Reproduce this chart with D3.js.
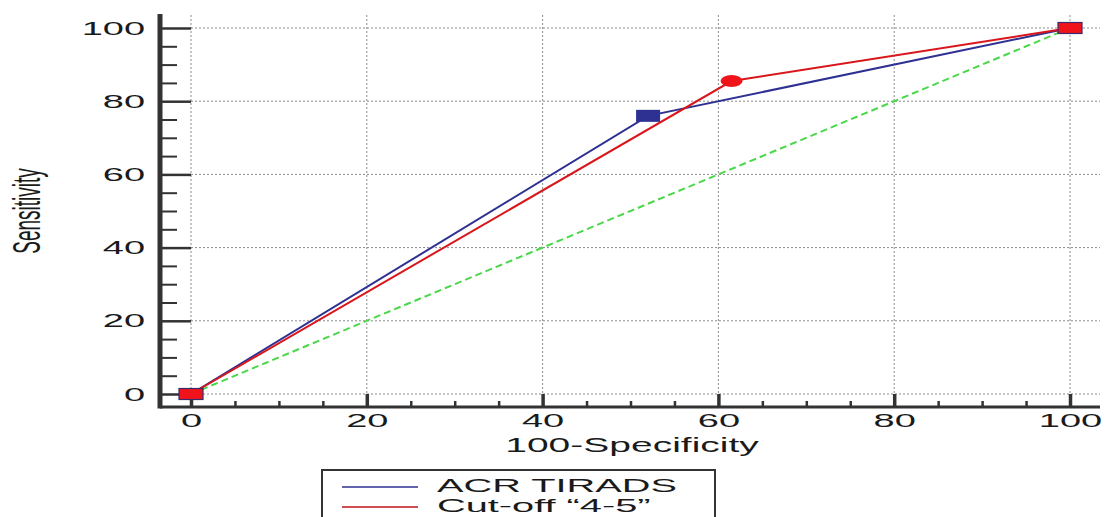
<!DOCTYPE html>
<html><head><meta charset="utf-8">
<script src="https://cdn.jsdelivr.net/npm/d3@7"></script>
<style>
html,body{margin:0;padding:0;background:#fff;}
svg{display:block;font-family:"Liberation Sans",Arial,sans-serif;}
</style></head>
<body>
<svg id="c" width="1106" height="517"></svg>
<script>
// ---- data ----
const majorTicks = [0, 20, 40, 60, 80, 100];
const minorTicks = [5,10,15,25,30,35,45,50,55,65,70,75,85,90,95];
const acrX = [0, 52, 100];
const acrY = [0, 76, 100];
const cutX = [0, 61.5, 100];
const cutY = [0, 85.5, 100];
const refX = [0, 100];
const refY = [0, 100];
const legendLabels = ["ACR TIRADS", "Cut-off \u201c4-5\u201d"];
const xTitle = "100-Specificity";
const yTitle = "Sensitivity";

const svg = d3.select("#c");
const x = d3.scaleLinear().domain([0, 100]).range([191, 1070]);
const y = d3.scaleLinear().domain([0, 100]).range([394, 28]);
const axisY0 = 407, axisX0 = 160;
const SX = 2; // horizontal stretch of text

// grid
const grid = svg.append("g").attr("stroke", "#8a8a8a").attr("stroke-width", 1).attr("stroke-dasharray", "2,2");
grid.selectAll("line.v").data(majorTicks).join("line")
  .attr("x1", d => x(d)).attr("x2", d => x(d)).attr("y1", 15).attr("y2", axisY0);
grid.selectAll("line.h").data(majorTicks).join("line")
  .attr("x1", x(0)).attr("x2", 1100).attr("y1", d => y(d)).attr("y2", d => y(d));

// x axis
const gx = svg.append("g").attr("transform", `translate(0,${axisY0})`);
gx.call(d3.axisBottom(x).tickValues(majorTicks).tickSizeInner(-13).tickSizeOuter(0).tickPadding(7));
gx.select(".domain").remove();
gx.selectAll(".tick line").attr("stroke", "#333").attr("stroke-width", 3.5);
gx.selectAll(".tick text").attr("font-size", 19).attr("fill", "#1a1a1a")
  .attr("font-family", "Liberation Sans, Arial, sans-serif")
  .attr("transform", `scale(${SX},1)`);
const gxm = svg.append("g").attr("transform", `translate(0,${axisY0})`);
gxm.call(d3.axisBottom(x).tickValues(minorTicks).tickSizeInner(-6).tickSizeOuter(0).tickFormat(""));
gxm.select(".domain").remove();
gxm.selectAll(".tick line").attr("stroke", "#333").attr("stroke-width", 2.5);
svg.append("line").attr("x1", axisX0).attr("x2", 1100).attr("y1", axisY0).attr("y2", axisY0)
  .attr("stroke", "#333").attr("stroke-width", 3);

// y axis
const gy = svg.append("g").attr("transform", `translate(${axisX0},0)`);
gy.call(d3.axisLeft(y).tickValues(majorTicks).tickSizeInner(-31).tickSizeOuter(0).tickPadding(0));
gy.select(".domain").remove();
gy.selectAll(".tick line").attr("stroke", "#333").attr("stroke-width", 2.5);
gy.selectAll(".tick text").attr("font-size", 19).attr("fill", "#1a1a1a")
  .attr("font-family", "Liberation Sans, Arial, sans-serif")
  .attr("x", -15 / SX).attr("transform", `scale(${SX},1)`);
const gym = svg.append("g").attr("transform", `translate(${axisX0},0)`);
gym.call(d3.axisLeft(y).tickValues(minorTicks).tickSizeInner(-17).tickSizeOuter(0).tickFormat(""));
gym.select(".domain").remove();
gym.selectAll(".tick line").attr("stroke", "#333").attr("stroke-width", 2);
svg.append("line").attr("x1", axisX0).attr("x2", axisX0).attr("y1", 14).attr("y2", axisY0 + 1.5)
  .attr("stroke", "#333").attr("stroke-width", 5);

// titles
svg.append("text").attr("transform", `translate(632,452) scale(${SX},1)`)
  .attr("text-anchor", "middle").attr("font-size", 19.5).attr("fill", "#1a1a1a").text(xTitle);
svg.append("text").attr("transform", `translate(40,211) scale(${SX},1) rotate(-90)`)
  .attr("text-anchor", "middle").attr("font-size", 19).attr("fill", "#1a1a1a").text(yTitle);

// lines
const line = d3.line().x(d => x(d[0])).y(d => y(d[1]));
svg.append("path").datum(d3.zip(refX, refY)).attr("d", line)
  .attr("fill", "none").attr("stroke", "#4ad84a").attr("stroke-width", 2).attr("stroke-dasharray", "7,4");
svg.append("path").datum(d3.zip(acrX, acrY)).attr("d", line)
  .attr("fill", "none").attr("stroke", "#2e3192").attr("stroke-width", 2);
svg.append("path").datum(d3.zip(cutX, cutY)).attr("d", line)
  .attr("fill", "none").attr("stroke", "#d8161b").attr("stroke-width", 2);

// markers
svg.append("rect").attr("x", x(acrX[1]) - 12).attr("y", y(acrY[1]) - 6).attr("width", 24).attr("height", 12)
  .attr("fill", "#2e3192");
svg.append("ellipse").attr("cx", x(cutX[1])).attr("cy", y(cutY[1])).attr("rx", 11).attr("ry", 6)
  .attr("fill", "#f0141a");
[0, 2].forEach(i => {
  svg.append("rect").attr("x", x(cutX[i]) - 12).attr("y", y(cutY[i]) - 5.5).attr("width", 24).attr("height", 11)
    .attr("fill", "#f0141a").attr("stroke", "#3a2a70").attr("stroke-width", 1.2);
});

// legend
const lg = svg.append("g");
lg.append("rect").attr("x", 322).attr("y", 470).attr("width", 393).attr("height", 70)
  .attr("fill", "#fff").attr("stroke", "#333").attr("stroke-width", 2);
const lcolors = ["#2e3192", "#c0141a"];
legendLabels.forEach((t, i) => {
  const yy = 487 + i * 20;
  lg.append("line").attr("x1", 342).attr("x2", 418).attr("y1", yy).attr("y2", yy)
    .attr("stroke", lcolors[i]).attr("stroke-width", 1.5);
  lg.append("text").attr("transform", `translate(437,${yy + 5}) scale(2.15,1)`)
    .attr("font-size", 18.5).attr("fill", "#1a1a1a").text(t);
});
</script>
</body></html>
